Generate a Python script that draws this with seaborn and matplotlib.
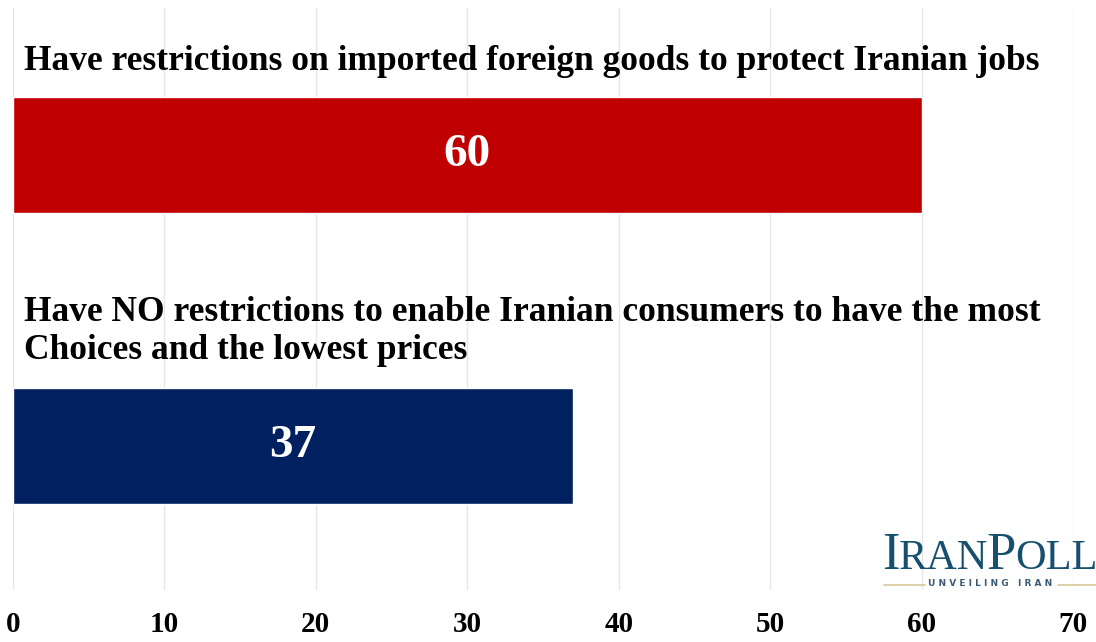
import matplotlib
matplotlib.use("Agg")
import matplotlib.pyplot as plt
import seaborn as sns
import pandas as pd

categories = ["Have restrictions on imported foreign goods to protect Iranian jobs",
              "Have NO restrictions to enable Iranian consumers to have the most\nChoices and the lowest prices"]
values = [60, 37]
colors = ["#C00000", "#002060"]
xticks = [0, 10, 20, 30, 40, 50, 60, 70]

sns.set_theme(style="white")
plt.rcParams['font.family'] = ['Liberation Serif', 'DejaVu Serif']

df = pd.DataFrame({"cat": categories, "val": values})

fig = plt.figure(figsize=(10.96, 6.42), dpi=100)
ax = fig.add_axes([13/1096, 1-590/642, 1060/1096, 582/642])
sns.barplot(data=df, y="cat", x="val", hue="cat", palette=colors, legend=False,
            orient="h", width=0.4, ax=ax, saturation=1)

ax.set_xlim(0, 70)
ax.set_ylim(1.495, -0.505)
ax.set_xticks(xticks)
ax.set_xticklabels([str(t) for t in xticks], fontsize=21, fontweight="bold", color="black")
ax.set_yticks([])
ax.set_xlabel("")
ax.set_ylabel("")
ax.tick_params(axis="x", length=0, pad=15)
ax.xaxis.grid(True, color="#E6E6E6", linewidth=1)
ax.set_axisbelow(True)
for s in ax.spines.values():
    s.set_visible(False)

label_y = [-0.32, -0.395]
for i, (c, v) in enumerate(zip(categories, values)):
    ax.text(0.75, i + label_y[i], c, ha="left", va="center", fontsize=25.5,
            fontweight="bold", color="black", linespacing=1.2)
    ax.text(v / 2, i, str(v), ha="center", va="center", fontsize=34,
            fontweight="bold", color="white")

# logo
renderer = fig.canvas.get_renderer()
logo_color = "#17506E"
x = 882
base_y = 1 - 569/642
for txt, fs in [("I", 38), ("RAN", 30.5), ("P", 38), ("OLL", 30.5)]:
    t = fig.text(x/1096, base_y, txt, fontsize=fs, color=logo_color, va="baseline",
                 ha="left", family="Liberation Serif")
    bb = t.get_window_extent(renderer=renderer)
    x += bb.width - 1
fig.text(990/1096, 1-584/642, "U N V E I L I N G   I R A N", fontsize=6.5, color="#3B5B75",
         va="center", ha="center", family="DejaVu Sans", fontweight="bold")
fig.add_artist(plt.Line2D([884/1096, 925/1096], [1-585/642]*2, color="#D8C89A", lw=1.2))
fig.add_artist(plt.Line2D([1058/1096, 1096/1096], [1-585/642]*2, color="#D8C89A", lw=1.2))

fig.savefig("out.png", dpi=100)
